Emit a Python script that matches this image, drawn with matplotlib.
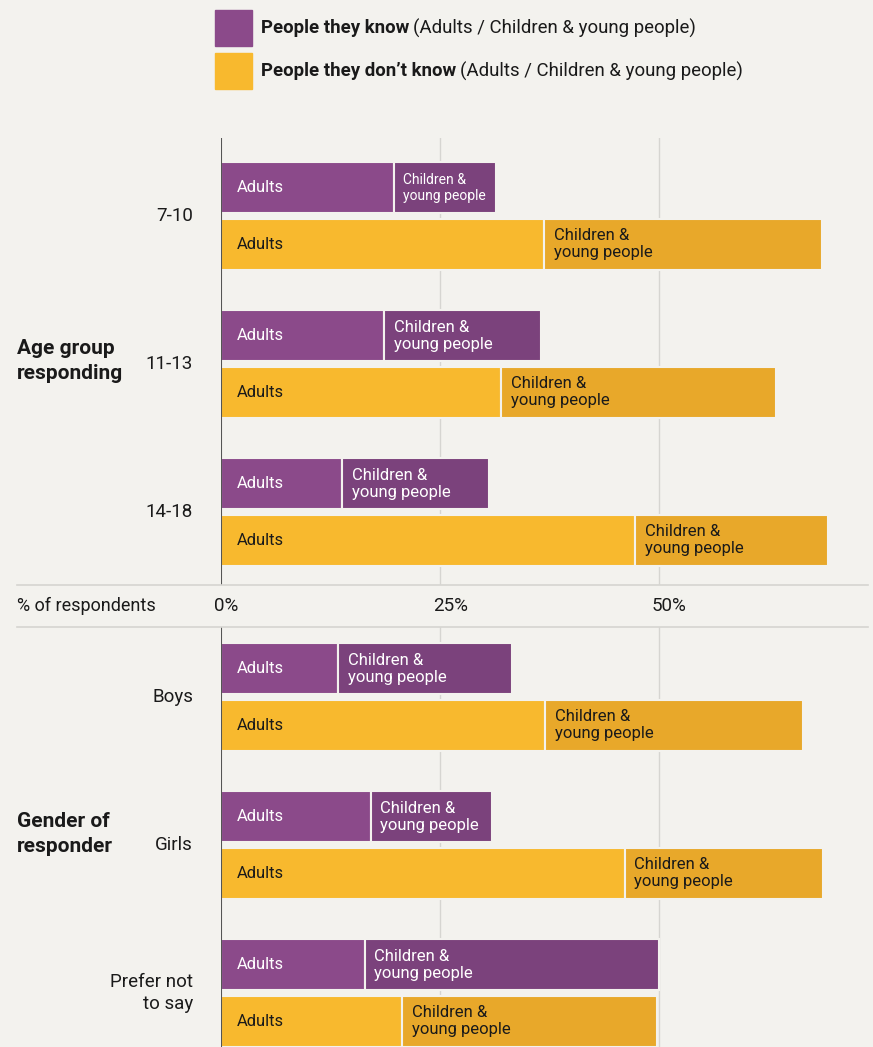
import matplotlib
matplotlib.use("Agg")
import matplotlib.pyplot as plt
from matplotlib.transforms import blended_transform_factory, offset_copy
from matplotlib.patches import Rectangle
from matplotlib.lines import Line2D

plt.rcParams['font.family'] = ['Roboto', 'DejaVu Sans']

# share of respondents (%) - adults / children & young people
age_groups = ['7-10', '11-13', '14-18']
age_know_adults = [19.7, 18.6, 13.8]
age_know_children = [11.7, 17.9, 16.8]
age_unknown_adults = [36.9, 32.0, 47.3]
age_unknown_children = [31.7, 31.4, 22.0]

genders = ['Boys', 'Girls', 'Prefer not\nto say']
gender_know_adults = [13.4, 17.1, 16.4]
gender_know_children = [19.8, 13.8, 33.6]
gender_unknown_adults = [37.0, 46.1, 20.7]
gender_unknown_children = [29.4, 22.6, 29.1]

ticks = [0, 25, 50]
tick_labels = ['0%', '25%', '50%']

BG = '#f3f2ee'
PURPLE = '#8b4a8a'
PURPLE_D = '#7b427c'
YELLOW = '#f8b92e'
YELLOW_D = '#e8a82a'
GRID = '#d6d5d1'
TXT = '#1a1a1a'

W, H = 873, 1047
fig = plt.figure(figsize=(W / 100, H / 100), dpi=100, facecolor=BG)


def fx(px):
    return px / W


def fy(py):
    return 1 - py / H


XMAX = (868 - 221) / 8.76


def make_axes(top, bottom):
    ax = fig.add_axes([fx(221), fy(bottom), fx(868) - fx(221), fy(top) - fy(bottom)])
    ax.set_facecolor(BG)
    ax.set_xlim(0, XMAX)
    for s in ax.spines.values():
        s.set_visible(False)
    ax.set_xticks([])
    ax.set_yticks([])
    for t in ticks[1:]:
        ax.axvline(t, color=GRID, lw=1, zorder=0)
    ax.axvline(0, color='#555555', lw=1.5, zorder=5)
    return ax


def draw_group(ax, labels, know_a, know_c, unk_a, unk_c, ylim):
    ax.set_ylim(*ylim)
    h = 0.345
    off = 0.19
    for i, lab in enumerate(labels):
        rows = [(i - off, know_a[i], know_c[i], PURPLE, PURPLE_D, 'white'),
                (i + off, unk_a[i], unk_c[i], YELLOW, YELLOW_D, TXT)]
        for y, a, c, col_a, col_c, tc in rows:
            ax.barh(y, a, height=h, color=col_a, edgecolor=BG, lw=1.5, zorder=2)
            ax.barh(y, c, left=a, height=h, color=col_c, edgecolor=BG, lw=1.5, zorder=2)
            ax.text(1.75, y, 'Adults', color=tc, fontsize=12, va='center', ha='left', zorder=3)
            fs = 10 if c < 13 else 12
            ax.text(a + 1.1, y, 'Children &\nyoung people', color=tc, fontsize=fs,
                    va='center', ha='left', linespacing=1.2, zorder=3)
        tr = blended_transform_factory(fig.transFigure, ax.transData)
        ax.text(fx(193), i, lab, transform=tr, ha='right', va='center',
                fontsize=13.5, color=TXT, linespacing=1.35)


ax1 = make_axes(138, 585)
draw_group(ax1, age_groups, age_know_adults, age_know_children,
           age_unknown_adults, age_unknown_children, (2.493, -0.527))
ax2 = make_axes(627, 1047)
draw_group(ax2, genders, gender_know_adults, gender_know_children,
           gender_unknown_adults, gender_unknown_children, (2.365, -0.473))

# section titles
fig.text(fx(17), fy(361), 'Age group\nresponding', fontsize=15, fontweight='bold',
         color=TXT, va='center', ha='left', linespacing=1.45)
fig.text(fx(17), fy(834), 'Gender of\nresponder', fontsize=15, fontweight='bold',
         color=TXT, va='center', ha='left', linespacing=1.45)

# axis strip between the two panels
for py in (585, 627):
    fig.add_artist(Line2D([fx(17), fx(868)], [fy(py), fy(py)], color=GRID, lw=1.2))
fig.text(fx(17), fy(606), '% of respondents', fontsize=13, color=TXT, va='center', ha='left')
tick_tr = offset_copy(blended_transform_factory(ax1.transData, fig.transFigure),
                      fig=fig, x=-7, y=0, units='dots')
for t, tl in zip(ticks, tick_labels):
    ax1.text(t, fy(606), tl, transform=tick_tr, fontsize=13.5, color=TXT,
             va='center', ha='left', clip_on=False)

# legend
legend_items = [(PURPLE, 'People they know', 28),
                (YELLOW, 'People they don\u2019t know', 71)]
renderer = fig.canvas.get_renderer()
for col, bold, py in legend_items:
    fig.add_artist(Rectangle((fx(215), fy(py + 18)), fx(37), fy(0) - fy(36),
                             transform=fig.transFigure, color=col))
    t = fig.text(fx(261), fy(py), bold, fontsize=13.4, fontweight='bold', color=TXT,
                 va='center', ha='left')
    bb = t.get_window_extent(renderer)
    fig.text(bb.x1 / W + fx(4), fy(py), '(Adults / Children & young people)',
             fontsize=13.4, color=TXT, va='center', ha='left')

fig.savefig('out.png', dpi=100, facecolor=BG)
